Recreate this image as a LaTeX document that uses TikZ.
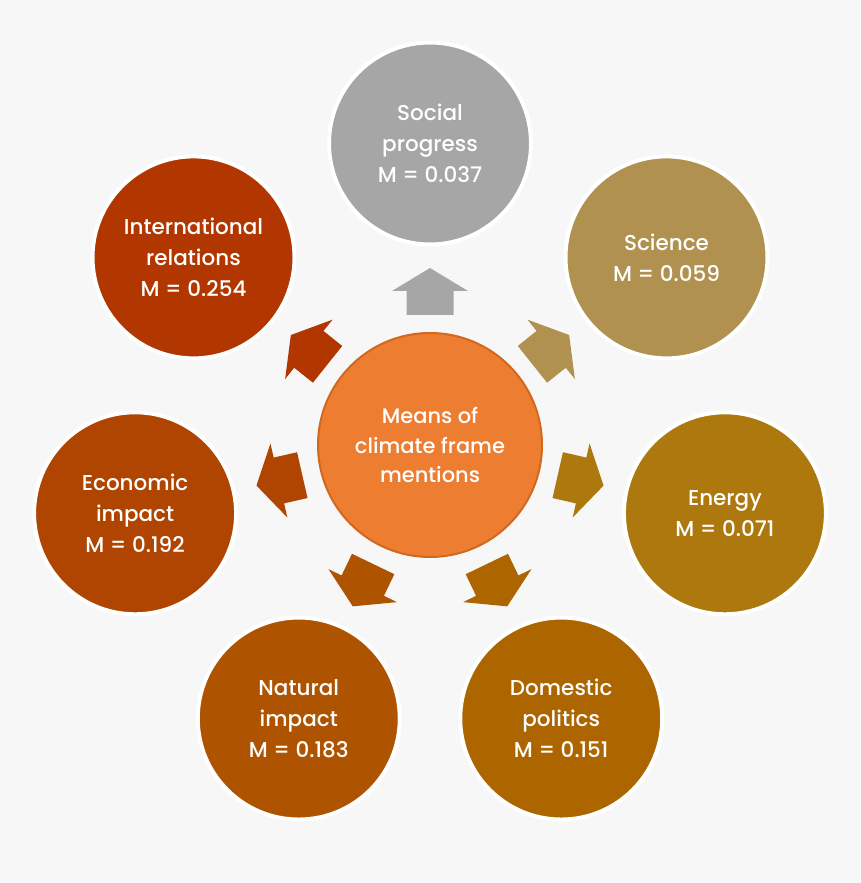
\documentclass[tikz,border=0pt]{standalone}
\usepackage{fontspec}
\setmainfont{Poppins}[UprightFont=* Medium]
\definecolor{bgc}{HTML}{F7F7F7}
\definecolor{cMid}{HTML}{ED7D31}
\definecolor{cMidB}{HTML}{D2671F}
\definecolor{cSoc}{HTML}{A6A6A6}
\definecolor{cSci}{HTML}{B09150}
\definecolor{cEne}{HTML}{AD790F}
\definecolor{cDom}{HTML}{AD6500}
\definecolor{cNat}{HTML}{AE5300}
\definecolor{cEco}{HTML}{AF4500}
\definecolor{cInt}{HTML}{B23600}
\begin{document}
\begin{tikzpicture}[x=1pt,y=1pt,
  lbl/.style={text=white, align=center, font=\fontsize{21.5}{31}\selectfont},
  outer/.style={circle, minimum size=202pt, inner sep=0pt, draw=white, line width=4pt, lbl},
  hub/.style={circle, minimum size=224pt, inner sep=0pt, fill=cMid, draw=cMidB, line width=2pt, lbl, font=\fontsize{21}{29.5}\selectfont}]
\fill[bgc] (0,0) rectangle (860,883);
\useasboundingbox (0,0) rectangle (860,883);
\coordinate (C) at (430,437);
\node[hub] (mid) at ([yshift=1pt]C) {Means of\\climate frame\\mentions};
\foreach \ang/\col/\nm/\txt in {
   90/cSoc/soc/{Social\\progress\\M = 0.037},
   38.571/cSci/sci/{Science\\M = 0.059},
  -12.857/cEne/ene/{Energy\\M = 0.071},
  -64.286/cDom/dom/{Domestic\\politics\\M = 0.151},
  -115.714/cNat/nat/{Natural\\impact\\M = 0.183},
  -167.143/cEco/eco/{Economic\\impact\\M = 0.192},
  141.429/cInt/int/{International\\relations\\M = 0.254}} {
  \node[outer, fill=\col] (\nm) at ([shift={(\ang:302.5)}]C) {\txt};
  \fill[\col, shift={(C)}, rotate=\ang]
    (131,-23.5) -- (155,-23.5) -- (155,-38) -- (178,0) -- (155,38) -- (155,23.5) -- (131,23.5) -- cycle;
}
\end{tikzpicture}
\end{document}
